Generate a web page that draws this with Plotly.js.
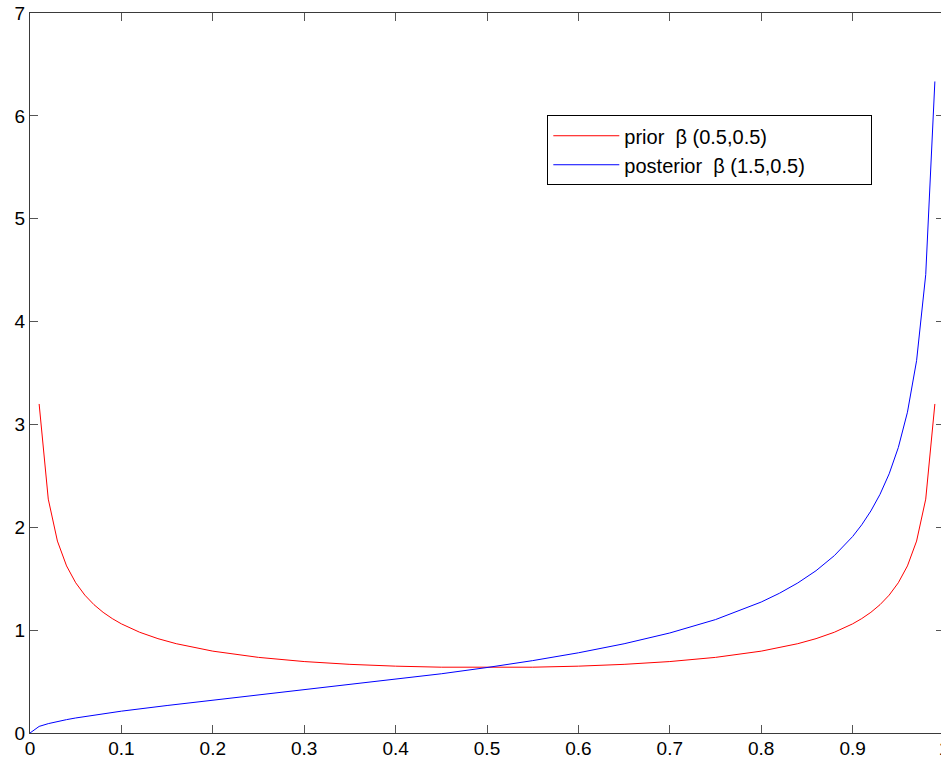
<!DOCTYPE html>
<html>
<head>
<meta charset="utf-8">
<script src="https://cdn.plot.ly/plotly-3.0.1.min.js"></script>
<style>
html,body{margin:0;padding:0;overflow:hidden;background:#fff;}
#chart{width:950px;height:758px;}
</style>
</head>
<body>
<div id="chart"></div>
<script>
// Prior Beta(0.5,0.5) density
const priorX = [0.01,0.02,0.03,0.04,0.05,0.06,0.07,0.08,0.09,0.10,0.12,0.14,0.16,0.18,0.20,0.25,0.30,0.35,0.40,0.45,0.50,0.55,0.60,0.65,0.70,0.75,0.80,0.82,0.84,0.86,0.88,0.90,0.91,0.92,0.93,0.94,0.95,0.96,0.97,0.98,0.99];
const priorY = [3.1990,2.2736,1.8660,1.6244,1.4605,1.3403,1.2476,1.1733,1.1123,1.0610,0.9795,0.9173,0.8683,0.8285,0.7958,0.7351,0.6946,0.6674,0.6497,0.6398,0.6366,0.6398,0.6497,0.6674,0.6946,0.7351,0.7958,0.8285,0.8683,0.9173,0.9795,1.0610,1.1123,1.1733,1.2476,1.3403,1.4605,1.6244,1.8660,2.2736,3.1990];
// Posterior Beta(1.5,0.5) density
const postX = [0,0.01,0.02,0.03,0.04,0.05,0.10,0.15,0.20,0.25,0.30,0.35,0.40,0.45,0.50,0.55,0.60,0.65,0.70,0.75,0.80,0.82,0.84,0.86,0.88,0.90,0.91,0.92,0.93,0.94,0.95,0.96,0.97,0.98,0.99];
const postY = [0,0.0640,0.0910,0.1120,0.1300,0.1461,0.2122,0.2674,0.3183,0.3676,0.4168,0.4672,0.5198,0.5758,0.6366,0.7038,0.7797,0.8676,0.9725,1.1027,1.2732,1.3588,1.4587,1.5778,1.7240,1.9099,2.0243,2.1589,2.3205,2.5198,2.7750,3.1187,3.6199,4.4563,6.3343];
const seriesNames = ["prior&nbsp; β (0.5,0.5)", "posterior&nbsp; β (1.5,0.5)&nbsp;&nbsp;&nbsp;&nbsp;&nbsp;&nbsp;&nbsp;&nbsp;&nbsp;&nbsp;&nbsp;"];
const xTicks = [0,0.1,0.2,0.3,0.4,0.5,0.6,0.7,0.8,0.9,1];
const xTickText = ["0","0.1","0.2","0.3","0.4","0.5","0.6","0.7","0.8","0.9","1"];
const yTicks = [0,1,2,3,4,5,6,7];

const tickFont = {family: "Liberation Sans, Arial, Helvetica, sans-serif", size: 19, color: "#000"};
const legendFont = {family: "Liberation Sans, Arial, Helvetica, sans-serif", size: 20, color: "#000"};

const traces = [
  {x: priorX, y: priorY, type: "scatter", mode: "lines", name: seriesNames[0], line: {color: "#ff0000", width: 1}},
  {x: postX, y: postY, type: "scatter", mode: "lines", name: seriesNames[1], line: {color: "#0000ff", width: 1}}
];

const axisCommon = {
  showline: true, linecolor: "#3a3a3a", linewidth: 1.3,
  ticks: "inside", ticklen: 8, tickwidth: 1, tickcolor: "#555",
  mirror: "ticks", showgrid: false, zeroline: false,
  tickfont: tickFont
};

const layout = {
  width: 950, height: 758,
  margin: {l: 30, r: 6, t: 13, b: 25},
  paper_bgcolor: "#fff", plot_bgcolor: "#fff",
  font: tickFont,
  showlegend: true,
  legend: {
    x: 0.566, y: 0.858, xanchor: "left", yanchor: "top",
    bordercolor: "#000", borderwidth: 1, bgcolor: "#fff",
    font: legendFont, tracegroupgap: 0,
    itemwidth: 66
  },
  xaxis: Object.assign({}, axisCommon, {range: [0, 1], tickvals: xTicks, ticktext: xTickText, ticklabelstandoff: -2}),
  yaxis: Object.assign({}, axisCommon, {range: [0, 7], tickvals: yTicks})
};

Plotly.newPlot("chart", traces, layout, {displayModeBar: false, responsive: false});
</script>
</body>
</html>
